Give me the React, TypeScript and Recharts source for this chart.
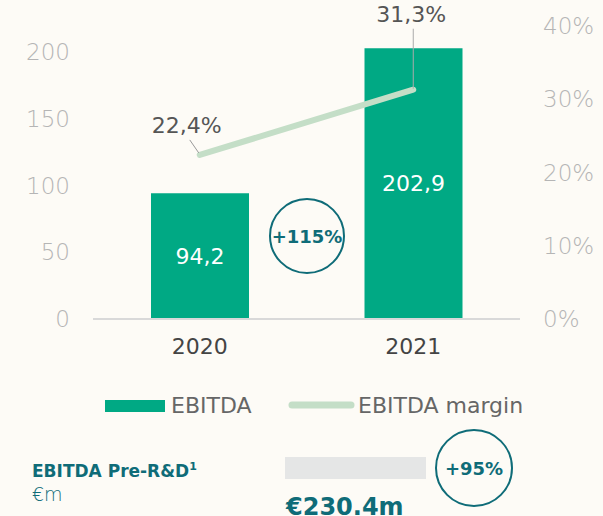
import React from 'react';
import { ComposedChart, Bar, Line, XAxis, YAxis, LabelList } from 'recharts';

const years = ['2020', '2021'];
const ebitda = [94.2, 202.9];
const ebitdaMargin = [22.4, 31.3];
const leftTicks = [0, 50, 100, 150, 200];
const rightTicks = [0, 10, 20, 30, 40];

const data = years.map((year, i) => ({ year, ebitda: ebitda[i], margin: ebitdaMargin[i] }));

const FONT = "'DejaVu Sans', sans-serif";
const BAR_COLOR = '#00a984';
const LINE_COLOR = '#c4dec7';
const TEAL = '#0f6c78';

const fmt = (v: number) => v.toFixed(1).replace('.', ',');

const MarginLabel = (props: any) => {
  const { x, y, index, value } = props;
  if (index === 0) {
    return (
      <g>
        <line x1={x - 10} y1={y - 15} x2={x - 1} y2={y - 2} stroke="#999" strokeWidth={1} />
        <text x={x - 13} y={y - 22} textAnchor="middle" fill="#555" fontSize={22} fontFamily={FONT}>
          {fmt(value)}%
        </text>
      </g>
    );
  }
  return (
    <g>
      <line x1={x} y1={y - 61} x2={x} y2={y - 1} stroke="#aaa" strokeWidth={1} />
      <text x={x - 2} y={y - 68} textAnchor="middle" fill="#555" fontSize={22} fontFamily={FONT}>
        {fmt(value)}%
      </text>
    </g>
  );
};

const App: React.FC = () => {
  return (
    <div style={{ position: 'fixed', left: 0, top: 0, width: 603, height: 516, background: '#fdfbf6', overflow: 'hidden', fontFamily: FONT }}>
      <ComposedChart width={603} height={380} data={data} margin={{ top: 26, right: 0, left: 0, bottom: 0 }} barCategoryGap="27%">
        <XAxis
          dataKey="year"
          height={61}
          tickLine={false}
          axisLine={{ stroke: '#d9d9d9', strokeWidth: 2 }}
          tick={{ fill: '#444', fontSize: 22, fontFamily: FONT }}
          tickMargin={13}
        />
        <YAxis
          yAxisId="left"
          width={93}
          domain={[0, 219.5]}
          ticks={leftTicks}
          axisLine={false}
          tickLine={false}
          tickMargin={17}
          tick={{ fill: '#b5b5b5', fontSize: 23, fontWeight: 300, fontFamily: FONT }}
        />
        <YAxis
          yAxisId="right"
          orientation="right"
          width={83}
          domain={[0, 40]}
          ticks={rightTicks}
          axisLine={false}
          tickLine={false}
          tickMargin={17}
          tickFormatter={(v: number) => `${v}%`}
          tick={{ fill: '#b5b5b5', fontSize: 23, fontWeight: 300, fontFamily: FONT }}
        />
        <Bar yAxisId="left" dataKey="ebitda" name="EBITDA" fill={BAR_COLOR} barSize={98} isAnimationActive={false}>
          <LabelList dataKey="ebitda" position="center" formatter={(v: any) => fmt(Number(v))} fill="#fff" fontSize={22} fontFamily={FONT} />
        </Bar>
        <Line
          yAxisId="right"
          dataKey="margin"
          name="EBITDA margin"
          stroke={LINE_COLOR}
          strokeWidth={6}
          strokeLinecap="round"
          dot={false}
          activeDot={false}
          isAnimationActive={false}
        >
          <LabelList dataKey="margin" content={<MarginLabel />} />
        </Line>
      </ComposedChart>

      <svg width={603} height={516} style={{ position: 'absolute', left: 0, top: 0, pointerEvents: 'none' }}>
        <circle cx={307} cy={236} r={37} fill="none" stroke={TEAL} strokeWidth={2} />
        <text x={307} y={243} textAnchor="middle" fill={TEAL} fontSize={18} fontWeight="bold" fontFamily={FONT}>+115%</text>

        <rect x={105} y={400} width={60} height={12} fill={BAR_COLOR} />
        <text x={171} y={413} fill="#666" fontSize={22} fontFamily={FONT}>EBITDA</text>
        <line x1={292} y1={405} x2={351} y2={405} stroke={LINE_COLOR} strokeWidth={7} strokeLinecap="round" />
        <text x={358} y={413} fill="#666" fontSize={22} fontFamily={FONT}>EBITDA margin</text>

        <text x={32} y={477} fill={TEAL} fontSize={17} fontWeight="bold" fontFamily={FONT}>
          EBITDA Pre-R&amp;D<tspan fontSize={11} dy={-7}>1</tspan>
        </text>
        <text x={32} y={501} fill={TEAL} fontSize={19} fontWeight={300} fontFamily={FONT}>€m</text>

        <rect x={285} y={457} width={141} height={22} fill="#e5e6e6" />
        <circle cx={474} cy={468} r={38} fill="none" stroke={TEAL} strokeWidth={2} />
        <text x={474} y={475} textAnchor="middle" fill={TEAL} fontSize={18} fontWeight="bold" fontFamily={FONT}>+95%</text>
        <text x={286} y={515} fill={TEAL} fontSize={24} fontWeight="bold" fontFamily={FONT}>€230.4m</text>
      </svg>
    </div>
  );
};

export default App;
